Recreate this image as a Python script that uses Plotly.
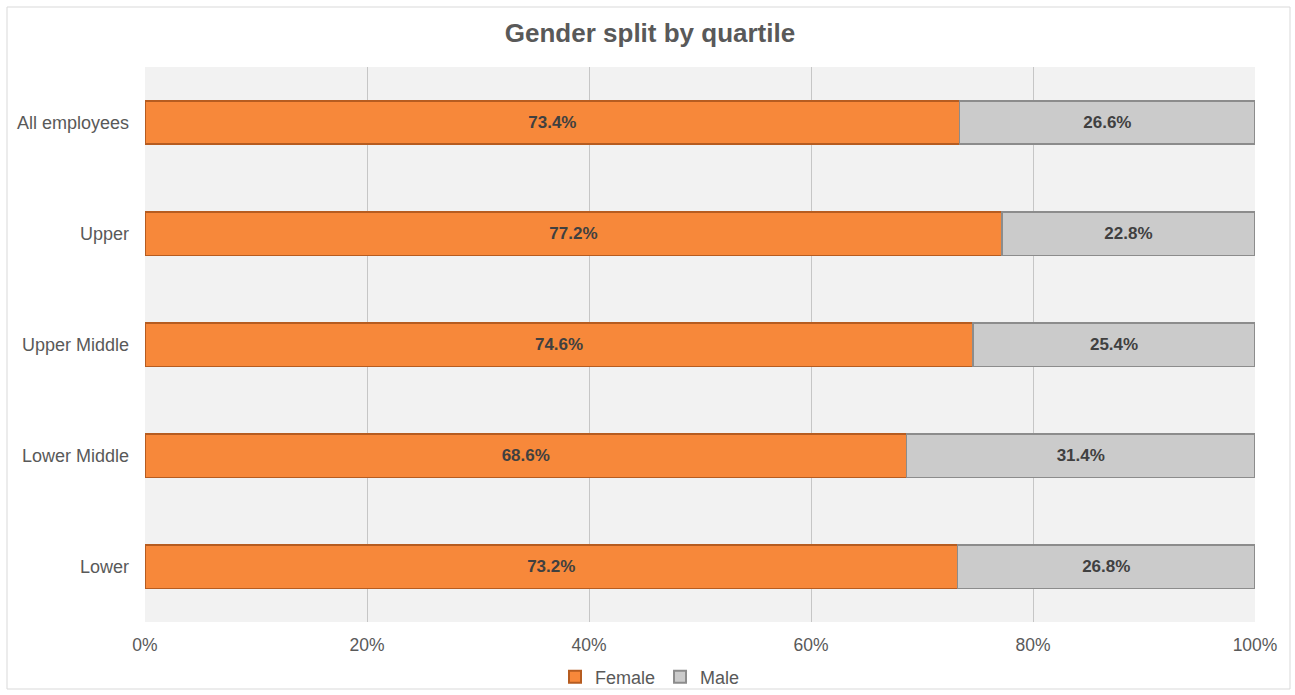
import plotly.graph_objects as go

categories = ["All employees", "Upper", "Upper Middle", "Lower Middle", "Lower"]
female = [73.4, 77.2, 74.6, 68.6, 73.2]
male = [26.6, 22.8, 25.4, 31.4, 26.8]
tick_vals = [0, 20, 40, 60, 80, 100]
tick_text = ["0%", "20%", "40%", "60%", "80%", "100%"]

W, H = 1295, 695
L, R, T, B = 145, 1255, 67, 622
FONT = "Liberation Sans, Arial, sans-serif"
TXT = "#595959"

fig = go.Figure()
fig.add_trace(go.Bar(
    name="Female", y=categories, x=female, orientation="h",
    marker=dict(color="#F7883A", line=dict(color="#B65C20", width=1.3)),
    text=[f"{v:.1f}%" for v in female], textposition="inside", insidetextanchor="middle",
    textfont=dict(family=FONT, size=17, color="#404040", weight="bold"),
    width=0.39,
))
fig.add_trace(go.Bar(
    name="Male", y=categories, x=male, orientation="h",
    marker=dict(color="#CBCBCB", line=dict(color="#8C8C8C", width=1.3)),
    text=[f"{v:.1f}%" for v in male], textposition="inside", insidetextanchor="middle",
    textfont=dict(family=FONT, size=17, color="#404040", weight="bold"),
    width=0.39,
))

def px(x):
    return (x - L) / (R - L)

def py(y):
    return (B - y) / (B - T)

fig.add_shape(type="rect", xref="paper", yref="paper",
              x0=px(7), x1=px(1290), y0=py(689), y1=py(7),
              line=dict(color="#D9D9D9", width=1), fillcolor="rgba(0,0,0,0)", layer="below")

fig.update_layout(
    width=W, height=H,
    margin=dict(l=L, r=W - R, t=T, b=H - B, autoexpand=False),
    barmode="stack",
    paper_bgcolor="white", plot_bgcolor="#F2F2F2",
    font=dict(family=FONT, size=17, color=TXT),
    title=dict(text="<b>Gender split by quartile</b>", x=650 / W, xref="container", xanchor="center",
               y=1 - 33 / H, yanchor="middle",
               font=dict(family=FONT, size=26, color=TXT)),
    xaxis=dict(range=[0, 100], tickvals=tick_vals, ticktext=tick_text,
               showgrid=True, gridcolor="#C6C6C6", gridwidth=1, zeroline=False,
               showline=False, ticks="", ticklen=0, ticklabelstandoff=10,
               tickfont=dict(family=FONT, size=17.5, color=TXT)),
    yaxis=dict(categoryorder="array", categoryarray=categories[::-1],
               showgrid=False, ticks="", ticklen=0, ticklabelstandoff=15,
               tickfont=dict(family=FONT, size=18, color=TXT)),
    legend=dict(orientation="h", x=px(650), xanchor="center", y=py(677), yanchor="middle",
                font=dict(family=FONT, size=18, color=TXT), bgcolor="rgba(0,0,0,0)",
                itemwidth=30, traceorder="normal", itemsizing="constant"),
    showlegend=True,
)

fig.write_html("out.html")
